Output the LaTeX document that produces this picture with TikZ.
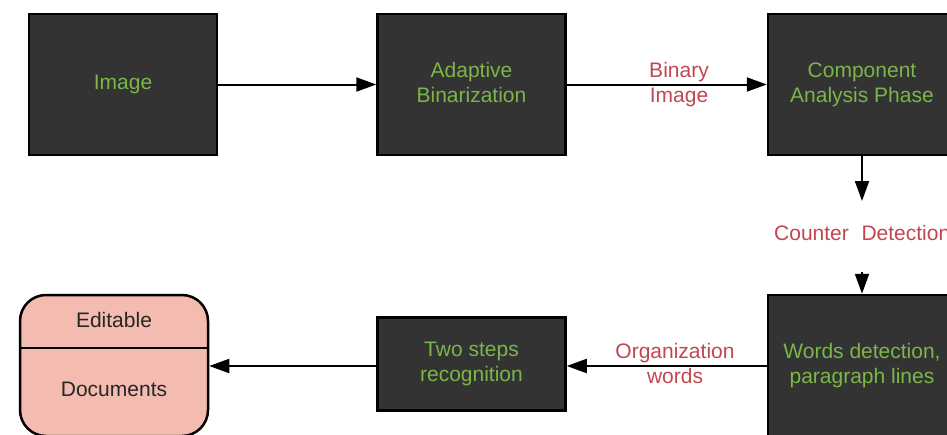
\documentclass[tikz,border=0pt]{standalone}
\usepackage{fontspec}
\setmainfont{Liberation Sans}
\usetikzlibrary{arrows.meta}
\definecolor{boxfill}{HTML}{333333}
\definecolor{stepgreen}{HTML}{7AB648}
\definecolor{labelred}{HTML}{C0464F}
\definecolor{docpink}{HTML}{F4BCB0}
\tikzset{
  txt/.style={font=\fontsize{21}{25}\selectfont, align=center, inner sep=0pt},
  procbox/.style={txt, draw=black, line width=2.5pt, fill=boxfill, text=stepgreen,
    minimum width=188pt, minimum height=141pt},
  flow/.style={line width=2pt, -{Triangle[length=20pt,width=14pt]}},
  edgelabel/.style={txt, text=labelred},
}
\begin{document}
\begin{tikzpicture}[x=1pt, y=-1pt]
  \useasboundingbox (0,0) rectangle (947,434);
  \clip (0,0) rectangle (947,434);

  % processing steps
  \node[procbox] (img) at (123,84.5) {Image};
  \node[procbox] (adb) at (471.5,84.5) {Adaptive\\Binarization\vphantom{p}};
  \node[procbox] (cap) at (862,84.5) {Component\\Analysis Phase};
  \node[procbox] (wdp) at (862,365.5) {Words detection,\\paragraph lines};
  \node[procbox, minimum height=93pt] (tsr) at (471.5,364) {Two steps\\recognition};

  % output document
  \node[draw=black, line width=2.5pt, fill=docpink, rounded corners=26pt,
        minimum width=188pt, minimum height=141pt] (doc) at (114,365.5) {};
  \draw[line width=2pt] ([yshift=17.5pt]doc.west) -- ([yshift=17.5pt]doc.east);
  \node[txt, text=black!85] (ed) at (114,320) {Editable};
  \node[txt, text=black!85] (dc) at (114,389) {Documents};

  % connectors
  \draw[flow] (img.east) -- (adb.west);
  \draw[flow] (adb.east) -- (cap.west);
  \coordinate (cd1) at (862,201);
  \coordinate (cd2) at (862,272);
  \draw[flow] (cap.south) -- (cd1);
  \draw[flow] (cd2) -- (wdp.north);
  \draw[flow] (wdp.west |- 0,366) -- (tsr.east |- 0,366);
  \draw[flow] (tsr.west |- 0,366) -- (doc.east |- 0,366);

  % connector labels
  \node[edgelabel] (lbi) at (679,84.5) {Binary\\Image};
  \node[edgelabel, anchor=west] (lcd) at (774,233) {Counter\hspace{0.6em}Detection};
  \node[edgelabel] (low) at (675,363) {Organization\\words};
\end{tikzpicture}
\end{document}
